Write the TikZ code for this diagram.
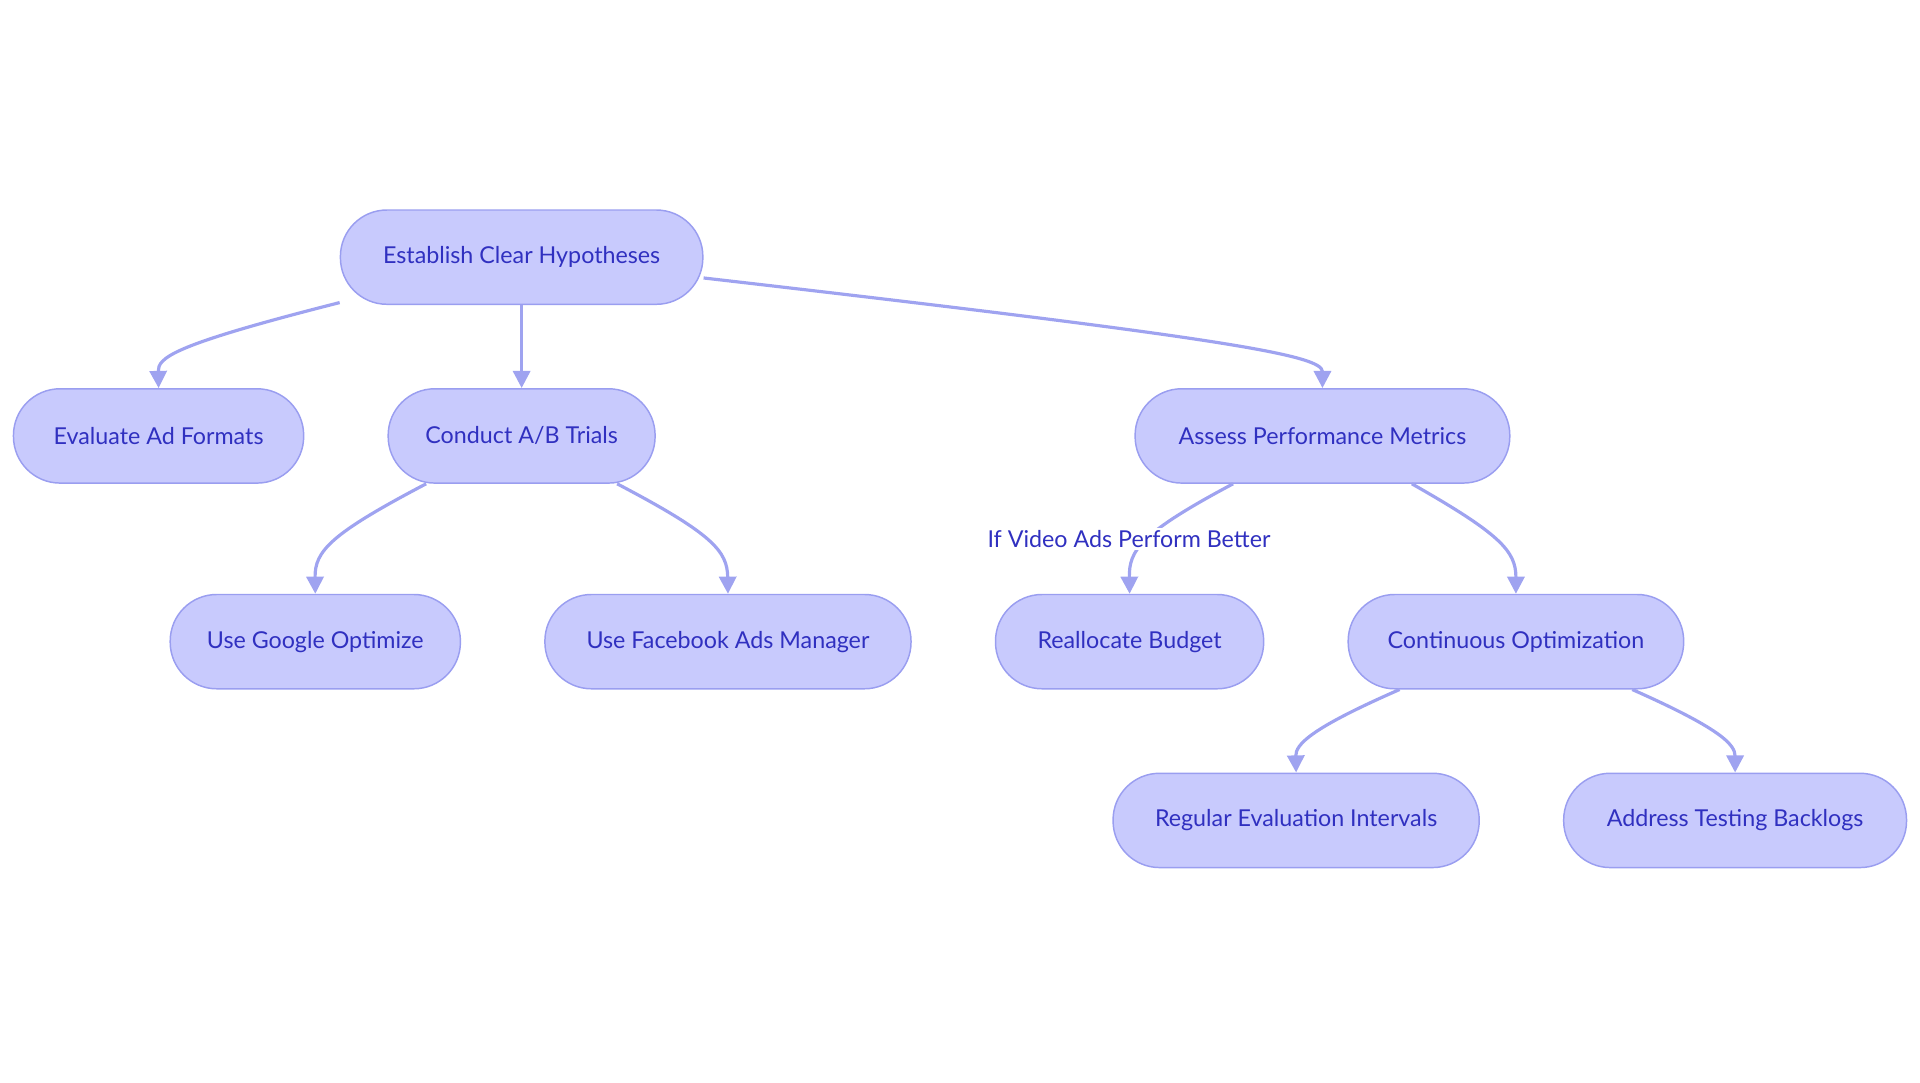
\documentclass[tikz,border=0pt]{standalone}
\usepackage{fontspec}
\setmainfont{Lato}
\usetikzlibrary{arrows.meta}
\definecolor{nfill}{HTML}{C8CAFD}
\definecolor{nline}{HTML}{9A9EF0}
\definecolor{ntext}{HTML}{3030C0}
\definecolor{eline}{HTML}{9FA3F0}
\begin{document}
\begin{tikzpicture}[x=0.5pt,y=-0.5pt,
 box/.style={draw=nline,fill=nfill,rounded corners=19pt,minimum height=38.5pt,text=ntext,font=\fontsize{9.5}{11}\selectfont,line width=0.6pt},
 e/.style={draw=eline,line width=1.3pt,-{Triangle[length=7pt,width=7pt]}}]
\useasboundingbox (0,0) rectangle (1568,884);
\node[box,minimum width=148pt] (est) at (426,210) {Establish Clear Hypotheses};
\node[box,minimum width=118.5pt] (eva) at (129.5,356) {Evaluate Ad Formats};
\node[box,minimum width=109pt] (con) at (426,356) {Conduct A/B Trials};
\node[box,minimum width=153pt] (ass) at (1080,356) {Assess Performance Metrics};
\node[box,minimum width=118.5pt] (goo) at (257.5,524) {Use Google Optimize};
\node[box,minimum width=149.5pt] (fac) at (594.5,524) {Use Facebook Ads Manager};
\node[box,minimum width=109.5pt] (rea) at (922.5,524) {Reallocate Budget};
\node[box,minimum width=137pt] (cont) at (1238,524) {Continuous Optimization};
\node[box,minimum width=149.5pt] (reg) at (1058.5,670) {Regular Evaluation Intervals};
\node[box,minimum width=140pt] (add) at (1417,670) {Address Testing Backlogs};
\draw[e] (est.south west) ++(0,-2) coordinate (s1) .. controls (140,282) and (129,292) .. (eva.north);
\draw[e] (est.south) -- (con.north);
\draw[e] (est.east) ++(0,17) coordinate (s2) .. controls (1000,276) and (1080,290) .. (ass.north);
\draw[e] (con.south) ++(-78,0) coordinate (s3) .. controls (270,436) and (257,450) .. (goo.north);
\draw[e] (con.south) ++(78,0) coordinate (s4) .. controls (582,436) and (594,450) .. (fac.north);
\draw[e] (ass.south) ++(-73,0) coordinate (s5) .. controls (930,436) and (922,450) .. (rea.north);
\draw[e] (ass.south) ++(73,0) coordinate (s6) .. controls (1225,436) and (1238,450) .. (cont.north);
\draw[e] (cont.south) ++(-95,0) coordinate (s7) .. controls (1070,595) and (1058,608) .. (reg.north);
\draw[e] (cont.south) ++(95,0) coordinate (s8) .. controls (1405,595) and (1417,608) .. (add.north);
\node[fill=white,text=ntext,inner sep=1pt,font=\fontsize{9.5}{11}\selectfont] (lab) at (922,440) {If Video Ads Perform Better};
\end{tikzpicture}
\end{document}
